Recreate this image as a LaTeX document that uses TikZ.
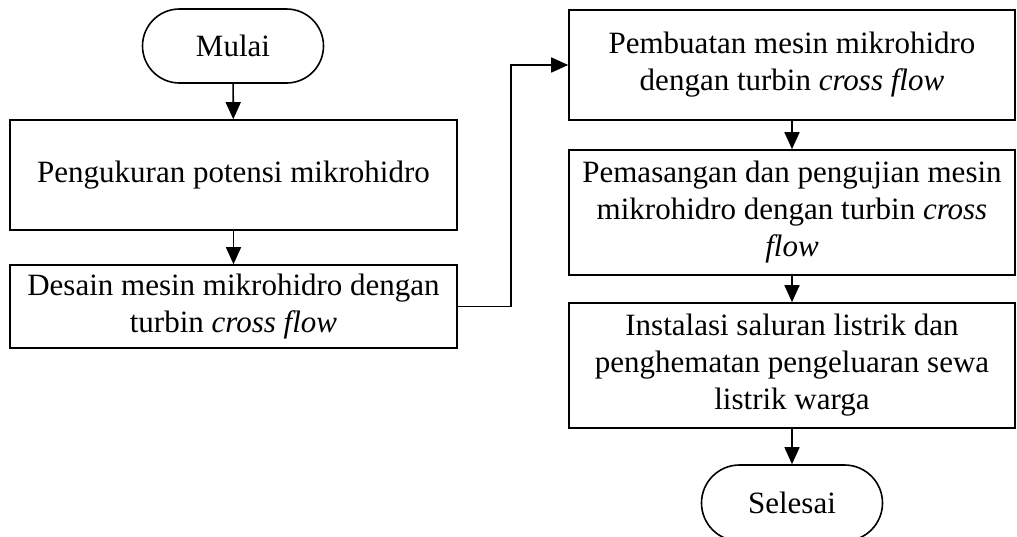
\documentclass[tikz,border=0pt]{standalone}
\usepackage{fontspec}
\setmainfont{Liberation Serif}
\usetikzlibrary{arrows.meta,shapes.misc}

\tikzset{
  stepbox/.style={draw, line width=1.6pt, align=center, inner sep=0pt,
    font=\fontsize{31}{37}\selectfont},
  termbox/.style={draw, rounded rectangle, line width=1.6pt, inner sep=0pt,
    font=\fontsize{31}{37}\selectfont},
  arr/.style={-{Triangle[length=17pt,width=15pt]}, line width=1.6pt}
}

\begin{document}
\begin{tikzpicture}[x=1pt,y=-1pt]
\useasboundingbox (0,0) rectangle (1017,536);
% Left column
\node[termbox, minimum width=181pt, minimum height=74pt] (mulai) at (233,46) {Mulai};
\node[stepbox, minimum width=447pt, minimum height=110pt] (ukur) at (233.5,175) {Pengukuran potensi mikrohidro};
\node[stepbox, minimum width=447pt, minimum height=83pt] (desain) at (233.5,306.5) {Desain mesin mikrohidro dengan\\turbin \textit{cross flow}};
% Right column
\node[stepbox, minimum width=446pt, minimum height=110pt] (buat) at (792,65) {Pembuatan mesin mikrohidro\\dengan turbin \textit{cross flow}};
\node[stepbox, minimum width=446pt, minimum height=125pt] (pasang) at (792,212.5) {Pemasangan dan pengujian mesin\\mikrohidro dengan turbin \textit{cross}\\\textit{flow}};
\node[stepbox, minimum width=446pt, minimum height=125pt] (instal) at (792,365.5) {Instalasi saluran listrik dan\\penghematan pengeluaran sewa\\listrik warga};
\node[termbox, minimum width=181pt, minimum height=76pt] (selesai) at (792,503) {Selesai};
% Connectors
\draw[arr] (mulai) -- (ukur);
\draw[arr] (ukur) -- (desain);
\draw[arr] (desain.east) -- ++(53,0) |- (buat.west);
\draw[arr] (buat) -- (pasang);
\draw[arr] (pasang) -- (instal);
\draw[arr] (instal) -- (selesai);
\end{tikzpicture}
\end{document}
